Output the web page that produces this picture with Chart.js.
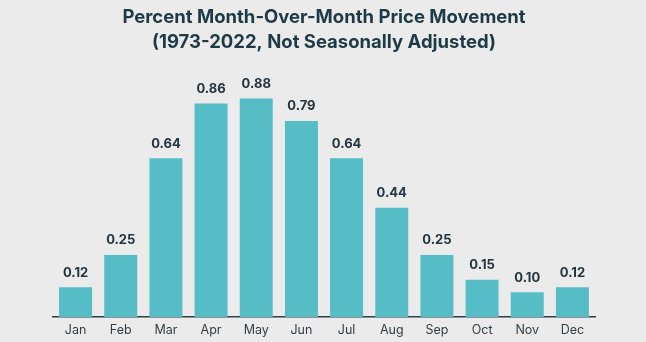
<!DOCTYPE html>
<html>
<head>
<meta charset="utf-8">
<script src="https://cdn.jsdelivr.net/npm/chart.js@4.4.0/dist/chart.umd.min.js"></script>
<style>
  html, body { margin: 0; padding: 0; background: #ebebeb; }
  #chart { display: block; }
</style>
</head>
<body>
<canvas id="chart" width="646" height="342"></canvas>
<script>
// Percent month-over-month price movement, 1973-2022
var months = ["Jan", "Feb", "Mar", "Apr", "May", "Jun", "Jul", "Aug", "Sep", "Oct", "Nov", "Dec"];
var movement = [0.12, 0.25, 0.64, 0.86, 0.88, 0.79, 0.64, 0.44, 0.25, 0.15, 0.10, 0.12];
var titleLines = ["Percent Month-Over-Month Price Movement", "(1973-2022, Not Seasonally Adjusted)"];

// draw the value above each bar
var valueLabels = {
    id: "valueLabels",
    afterDatasetsDraw: function (chart) {
        var ctx = chart.ctx;
        var meta = chart.getDatasetMeta(0);
        ctx.save();
        ctx.font = "bold 13px Inter, 'Liberation Sans', sans-serif";
        ctx.fillStyle = "#25343d";
        ctx.textAlign = "center";
        ctx.textBaseline = "bottom";
        meta.data.forEach(function (bar, i) {
            ctx.fillText(movement[i].toFixed(2), bar.x, bar.y - 8);
        });
        ctx.restore();
    }
};

var bgFill = {
    id: "bgFill",
    beforeDraw: function (chart) {
        var ctx = chart.ctx;
        ctx.save();
        ctx.fillStyle = "#ebebeb";
        ctx.fillRect(0, 0, chart.width, chart.height);
        ctx.restore();
    }
};

var ctx = document.getElementById("chart").getContext("2d");
var chart = new Chart(ctx, {
    type: "bar",
    data: {
        labels: months,
        datasets: [{
            data: movement,
            backgroundColor: "#56bcc6",
            borderWidth: 0,
            categoryPercentage: 1.0,
            barPercentage: 0.73
        }]
    },
    options: {
        responsive: false,
        animation: false,
        layout: { padding: { left: 53, right: 51, top: 0, bottom: 0 } },
        plugins: {
            legend: { display: false },
            tooltip: { enabled: false },
            title: {
                display: true,
                text: titleLines,
                color: "#1e3a46",
                font: { family: "Inter, 'Liberation Sans', sans-serif", size: 18.5, weight: "bold", lineHeight: 1.4 },
                padding: { top: 4, bottom: 13 }
            }
        },
        scales: {
            x: {
                grid: { display: false, drawTicks: false },
                border: { display: true, color: "#2d3e48", width: 1.5 },
                ticks: {
                    color: "#333d44",
                    font: { family: "Inter, 'Liberation Sans', sans-serif", size: 12.5 },
                    padding: 6
                },
                afterFit: function (scale) { scale.height = 25; }
            },
            y: {
                display: false,
                min: 0,
                max: 1.0
            }
        }
    },
    plugins: [bgFill, valueLabels]
});
</script>
</body>
</html>
